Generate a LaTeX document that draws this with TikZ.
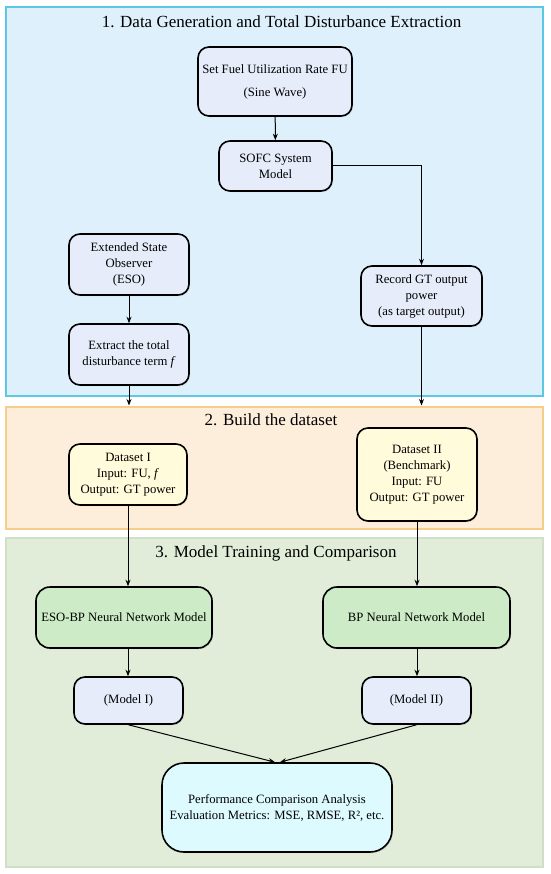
\documentclass[tikz,border=0pt]{standalone}
\usepackage{fontspec}
\setmainfont{Liberation Serif}
\usetikzlibrary{arrows.meta,shadows}
\definecolor{pOneFill}{HTML}{DDF0FC}
\definecolor{pOneDraw}{HTML}{5CC8E4}
\definecolor{pTwoFill}{HTML}{FDEEDC}
\definecolor{pTwoDraw}{HTML}{F7CD8C}
\definecolor{pThreeFill}{HTML}{E1EDD9}
\definecolor{pThreeDraw}{HTML}{CFE0C6}
\definecolor{lavFill}{HTML}{E6ECFA}
\definecolor{dsFill}{HTML}{FFFBDB}
\definecolor{nnFill}{HTML}{CDEBC6}
\definecolor{perfFill}{HTML}{DDFAFE}
\begin{document}
\begin{tikzpicture}[x=1pt,y=-1pt,
  panel/.style={line width=1.4pt},
  ptitle/.style={font=\fontsize{17}{20}\selectfont, inner sep=0pt},
  box/.style={draw=black, line width=1.6pt, rounded corners=11pt, align=center,
    font=\fontsize{12.7}{16}\selectfont, inner sep=2pt,
    drop shadow={opacity=0.25, shadow xshift=1pt, shadow yshift=-1.2pt}},
  lav/.style={box, fill=lavFill},
  dsbox/.style={box, fill=dsFill},
  nnbox/.style={box, fill=nnFill},
  arr/.style={line width=1pt, -{Stealth[length=6.5pt,width=5pt]}}
]
\useasboundingbox (0,0) rectangle (550,874);
\fill[white] (0,0) rectangle (550,874);
% panels
\draw[panel, draw=pOneDraw, fill=pOneFill] (6,7) rectangle (543,396);
\draw[panel, draw=pTwoDraw, fill=pTwoFill] (6,407) rectangle (543,529);
\draw[panel, draw=pThreeDraw, fill=pThreeFill] (6,538) rectangle (543,867);
\node[ptitle] (t1) at (281.5,22) {1. Data Generation and Total Disturbance Extraction};
\node[ptitle] (t2) at (271,420) {2. Build the dataset};
\node[ptitle] (t3) at (276,553) {3. Model Training and Comparison};
% nodes
\node[lav, minimum width=154pt, minimum height=69pt, font=\fontsize{12.7}{23}\selectfont] (fu) at (275,81.5) {Set Fuel Utilization Rate FU\\(Sine Wave)};
\node[lav, minimum width=113pt, minimum height=50pt] (sofc) at (275.5,166) {SOFC System\\Model};
\node[lav, minimum width=121pt, minimum height=60pt] (rec) at (421.5,296) {Record GT output\\power\\(as target output)};
\node[lav, minimum width=120pt, minimum height=61pt] (eso) at (129,264.5) {Extended State\\Observer\\(ESO)};
\node[lav, minimum width=120pt, minimum height=61pt] (ext) at (129,354.5) {Extract the total\\disturbance term \textit{f}};
\node[dsbox, minimum width=118pt, minimum height=61pt] (ds1) at (128,474.5) {Dataset I\\Input: FU, \textit{f}\\Output: GT power};
\node[dsbox, minimum width=120pt, minimum height=93pt] (ds2) at (417,474.5) {Dataset II\\(Benchmark)\\Input: FU\\Output: GT power};
\node[nnbox, minimum width=176pt, minimum height=61pt, rounded corners=14pt] (esobp) at (124,617.5) {ESO-BP Neural Network Model};
\node[nnbox, minimum width=187pt, minimum height=61pt, rounded corners=14pt] (bp) at (416.5,617.5) {BP Neural Network Model};
\node[lav, minimum width=109pt, minimum height=47pt] (m1) at (128.5,700.5) {(Model I)};
\node[lav, minimum width=109pt, minimum height=47pt] (m2) at (416.5,700.5) {(Model II)};
\node[box, fill=perfFill, minimum width=230pt, minimum height=89pt, rounded corners=22pt] (perf) at (277,807.5) {Performance Comparison Analysis\\Evaluation Metrics: MSE, RMSE, R², etc.};
% free ends
\coordinate (e1) at (129,405.5);
\coordinate (e2) at (422,405.5);
% connectors
\draw[arr] (fu) -- (sofc);
\draw[arr] (sofc.east) -| (rec.north);
\draw[arr] (eso) -- (ext);
\draw[arr] (ext.south) -- (ext.south |- e1);
\draw[arr] (rec.south) -- (rec.south |- e2);
\draw[arr] (ds1.south) -- (ds1.south |- esobp.north);
\draw[arr] (ds2.south) -- (ds2.south |- bp.north);
\draw[arr] (esobp.south -| ds1.south) -- (m1.north -| ds1.south);
\draw[arr] (bp.south -| ds2.south) -- (m2.north -| ds2.south);
\draw[arr] (m1.south) -- ([xshift=-2pt]perf.north);
\draw[arr] (m2.south) -- ([xshift=3pt]perf.north);
\end{tikzpicture}
\end{document}
